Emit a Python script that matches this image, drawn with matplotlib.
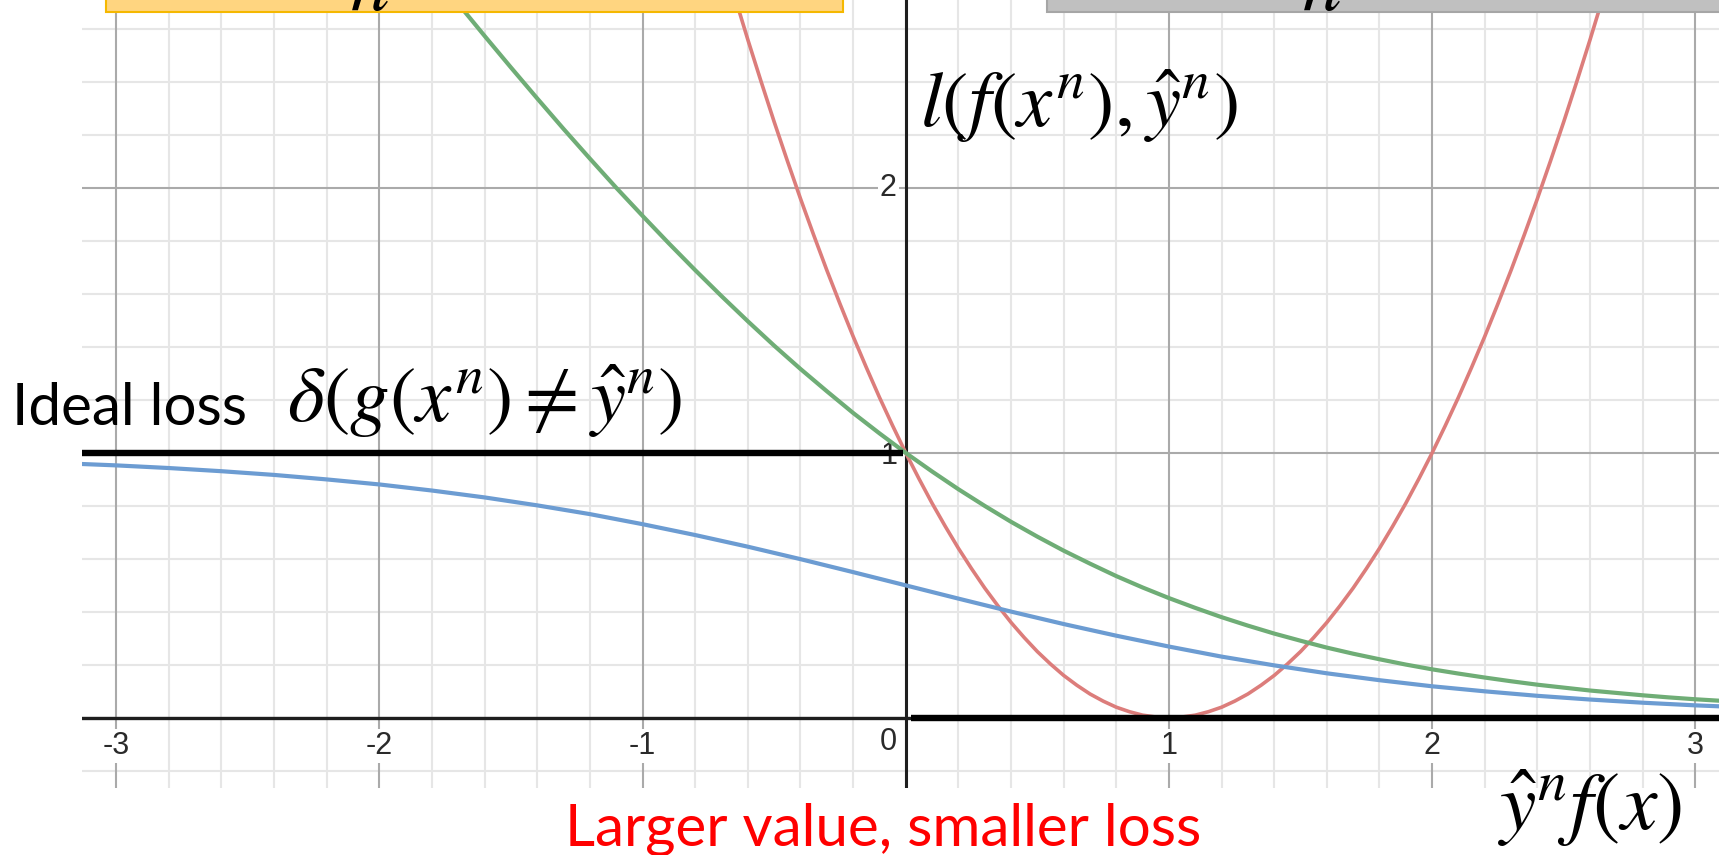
import matplotlib
matplotlib.use("Agg")
import matplotlib.pyplot as plt
from matplotlib.patches import Rectangle

plt.rcParams["mathtext.fontset"] = "stix"

# loss curves (x = y^n f(x), y = loss)
sq_x = [-0.70, -0.65, -0.60, -0.55, -0.50, -0.45, -0.40, -0.35, -0.30, -0.25, -0.20, -0.15,
        -0.10, -0.05, 0.00, 0.05, 0.10, 0.15, 0.20, 0.25, 0.30, 0.35, 0.40, 0.45, 0.50,
        0.55, 0.60, 0.65, 0.70, 0.75, 0.80, 0.85, 0.90, 0.95, 1.00, 1.05, 1.10, 1.15,
        1.20, 1.25, 1.30, 1.35, 1.40, 1.45, 1.50, 1.55, 1.60, 1.65, 1.70, 1.75, 1.80,
        1.85, 1.90, 1.95, 2.00, 2.05, 2.10, 2.15, 2.20, 2.25, 2.30, 2.35, 2.40, 2.45,
        2.50, 2.55, 2.60, 2.65, 2.70]
sq_loss = [2.890, 2.723, 2.560, 2.403, 2.250, 2.103, 1.960, 1.823, 1.690, 1.563, 1.440, 1.323,
           1.210, 1.103, 1.000, 0.903, 0.810, 0.723, 0.640, 0.563, 0.490, 0.423, 0.360, 0.303,
           0.250, 0.203, 0.160, 0.123, 0.090, 0.063, 0.040, 0.023, 0.010, 0.003, 0.000, 0.003,
           0.010, 0.023, 0.040, 0.063, 0.090, 0.123, 0.160, 0.203, 0.250, 0.303, 0.360, 0.423,
           0.490, 0.563, 0.640, 0.723, 0.810, 0.903, 1.000, 1.103, 1.210, 1.323, 1.440, 1.563,
           1.690, 1.823, 1.960, 2.103, 2.250, 2.403, 2.560, 2.723, 2.890]

ce_x = [-1.8, -1.7, -1.6, -1.5, -1.4, -1.3, -1.2, -1.1, -1.0, -0.9, -0.8, -0.7, -0.6, -0.5,
        -0.4, -0.3, -0.2, -0.1, 0.0, 0.1, 0.2, 0.3, 0.4, 0.5, 0.6, 0.7, 0.8, 0.9, 1.0,
        1.1, 1.2, 1.3, 1.4, 1.5, 1.6, 1.7, 1.8, 1.9, 2.0, 2.1, 2.2, 2.3, 2.4, 2.5,
        2.6, 2.7, 2.8, 2.9, 3.0, 3.1, 3.2]
ce_loss = [2.818, 2.695, 2.574, 2.455, 2.338, 2.223, 2.111, 2.001, 1.895, 1.791, 1.690, 1.592,
           1.497, 1.405, 1.317, 1.233, 1.151, 1.074, 1.000, 0.930, 0.863, 0.800, 0.740, 0.684,
           0.631, 0.582, 0.535, 0.492, 0.452, 0.415, 0.380, 0.348, 0.318, 0.291, 0.265, 0.242,
           0.221, 0.201, 0.183, 0.167, 0.152, 0.138, 0.125, 0.114, 0.103, 0.094, 0.085, 0.077,
           0.070, 0.064, 0.058]

sig_x = [-3.2, -3.0, -2.8, -2.6, -2.4, -2.2, -2.0, -1.8, -1.6, -1.4, -1.2, -1.0, -0.8, -0.6,
         -0.4, -0.2, 0.0, 0.2, 0.4, 0.6, 0.8, 1.0, 1.2, 1.4, 1.6, 1.8, 2.0, 2.2, 2.4, 2.6,
         2.8, 3.0, 3.2]
sig_loss = [0.961, 0.953, 0.943, 0.931, 0.917, 0.900, 0.881, 0.858, 0.832, 0.802, 0.769, 0.731,
            0.690, 0.646, 0.599, 0.550, 0.500, 0.450, 0.401, 0.354, 0.310, 0.269, 0.231, 0.198,
            0.168, 0.142, 0.119, 0.100, 0.083, 0.069, 0.057, 0.047, 0.039]

# ideal (0/1) loss, two flat pieces
ideal_left_x = [-3.2, -0.01]
ideal_left_y = [1, 1]
ideal_right_x = [0.02, 3.2]
ideal_right_y = [0, 0]

x_ticks = [-3, -2, -1, 1, 2, 3]
x_ticklabels = ["-3", "-2", "-1", "1", "2", "3"]

fig = plt.figure(figsize=(17.19, 8.55), dpi=100)
ax = fig.add_axes([82 / 1719, 67 / 855, 1 - 82 / 1719, 1 - 67 / 855])
ax.set_xlim(-3.13, 3.09)
ax.set_ylim(-0.265, 2.71)
ax.axis("off")

# desmos style grid
for i in range(-16, 17):
    major = i % 5 == 0
    ax.axvline(i * 0.2, color="#aaaaaa" if major else "#e6e6e6", lw=1.5,
               zorder=1 if major else 0.5)
for i in range(-2, 15):
    major = i % 5 == 0
    ax.axhline(i * 0.2, color="#aaaaaa" if major else "#e6e6e6", lw=1.5,
               zorder=1 if major else 0.5)
ax.axhline(0, color="#1e1e1e", lw=2.4, zorder=2)
ax.axvline(0, color="#1e1e1e", lw=2.2, zorder=2)

lbl = dict(fontsize=22, color="#2a2a2a", family="Liberation Sans", ha="center", va="center",
           bbox=dict(facecolor="white", edgecolor="none", pad=1.5), zorder=3)
for t, s in zip(x_ticks, x_ticklabels):
    ax.text(t, -0.106, s, **lbl)
ax.text(-0.067, -0.09, "0", **lbl)
ax.text(-0.067, 2.0, "2", **lbl)
ax.text(-0.063, 0.99, "1", **lbl)

ax.plot(sq_x, sq_loss, color="#dc7d7b", lw=2.6, zorder=4)
ax.plot(sig_x, sig_loss, color="#6c9cd2", lw=3.0, zorder=5)
ax.plot(ce_x, ce_loss, color="#6fad76", lw=3.0, zorder=5)
ax.plot(ideal_left_x, ideal_left_y, color="black", lw=4.6, solid_capstyle="butt", zorder=6)
ax.plot(ideal_right_x, ideal_right_y, color="black", lw=4.6, solid_capstyle="butt", zorder=6)

# text
fig.text(0.0067, 1 - 425 / 855, "Ideal loss", fontsize=42, family="Lato", va="baseline")
fig.text(287 / 1719, 1 - 401 / 855, r"$\delta(g(x^n) \neq \hat{y}^n)$", fontsize=57, va="center")
fig.text(920 / 1719, 1 - 106 / 855, r"$l(f(x^n),\hat{y}^n)$", fontsize=57, va="center")
fig.text(1498 / 1719, 1 - 808 / 855, r"$\hat{y}^n f(x)$", fontsize=59, va="center")
fig.text(565 / 1719, 1 - 845 / 855, "Larger value, smaller loss", fontsize=42, family="Lato",
         color="red", va="baseline")

# boxes cut off at the top edge
fig.add_artist(Rectangle((106 / 1719, 1 - 12.5 / 855), 737 / 1719, 40 / 855,
                         transform=fig.transFigure, facecolor="#ffd580", edgecolor="#f5b800",
                         lw=1.5, zorder=10))
fig.add_artist(Rectangle((1047 / 1719, 1 - 12.5 / 855), 700 / 1719, 40 / 855,
                         transform=fig.transFigure, facecolor="#c0c0c0", edgecolor="#a6a6a6",
                         lw=1.5, zorder=10))
fig.text(369 / 1719, 1 - 10 / 855, r"$n$", fontsize=56, ha="center", va="baseline", zorder=11)
fig.text(1321 / 1719, 1 - 10 / 855, r"$n$", fontsize=56, ha="center", va="baseline", zorder=11)

fig.savefig("out.png", dpi=100)
